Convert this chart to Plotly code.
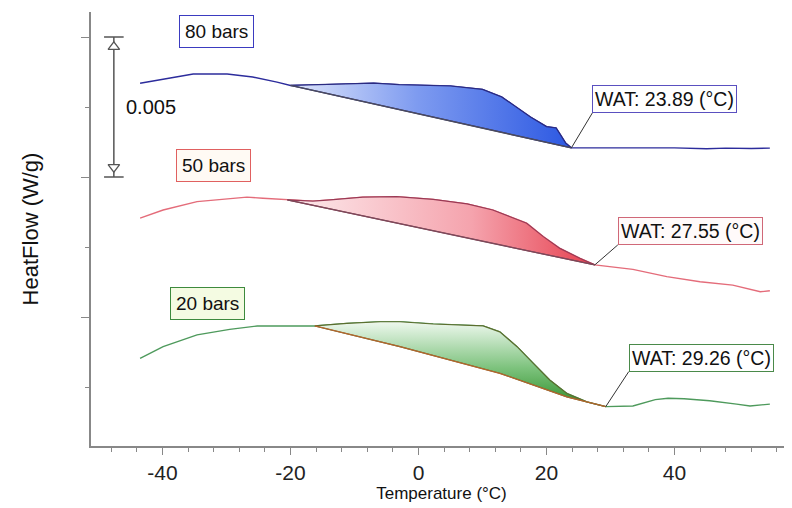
import numpy as np
import plotly.graph_objects as go

# ---------------- data ----------------
# 80 bars
t80 = [-43.5, -39.9, -35.2, -29.9, -25.9, -22.1, -20.0, -15.9, -10.0, -7.0, -3.0, 0.0, 5.0,
       10.0, 13.0, 15.0, 17.5, 20.0, 21.5, 22.2, 23.0, 23.89, 27.0, 30.0, 33.0, 36.0, 40.0,
       45.0, 48.0, 52.0, 54.9]
hf80 = [0.00835, 0.00850, 0.00868, 0.00868, 0.00857, 0.00839, 0.00827, 0.00829, 0.00832,
        0.00835, 0.00830, 0.00829, 0.00825, 0.00813, 0.00786, 0.00754, 0.00714, 0.00680,
        0.00675, 0.00650, 0.00621, 0.00604, 0.00604, 0.00602, 0.00604, 0.00603, 0.00604,
        0.00601, 0.00603, 0.00602, 0.00603]
base80_t = [-20.0, 23.89]
base80_hf = [0.00827, 0.00604]

# 50 bars
t50 = [-43.5, -39.9, -34.6, -30.5, -26.8, -24.3, -20.5, -16.5, -13.8, -8.7, -3.4, 2.3, 7.6,
       11.6, 14.3, 16.9, 19.5, 22.1, 25.2, 27.55, 33.5, 38.8, 44.0, 49.1, 53.4, 54.9]
hf50 = [0.00353, 0.00382, 0.00412, 0.00421, 0.00428, 0.00424, 0.00418, 0.00414, 0.00418,
        0.00428, 0.00430, 0.00420, 0.00404, 0.00382, 0.00358, 0.00335, 0.00287, 0.00245,
        0.00210, 0.00186, 0.00170, 0.00144, 0.00126, 0.00114, 0.00090, 0.00094]
base50_t = [-20.5, 27.55]
base50_hf = [0.00418, 0.00186]

# 20 bars
t20 = [-43.5, -39.9, -34.6, -29.5, -25.2, -21.6, -16.2, -11.2, -6.0, -2.9, 2.3, 10.1, 12.7,
       15.4, 17.9, 20.5, 23.2, 26.3, 29.26, 33.5, 37.0, 39.0, 41.5, 45.5, 49.7, 51.8, 54.9]
hf20 = [-0.00148, -0.00106, -0.00064, -0.00044, -0.00032, -0.00032, -0.00032, -0.00023,
        -0.00017, -0.00017, -0.00025, -0.00032, -0.00053, -0.00106, -0.00165, -0.00225,
        -0.00273, -0.00303, -0.00320, -0.00318, -0.00295, -0.00290, -0.00292, -0.00299,
        -0.00311, -0.00318, -0.00311]
base20_t = [-16.2, -2.9, 12.7, 23.2, 29.26]
base20_hf = [-0.00032, -0.00106, -0.00201, -0.00285, -0.00320]

series_names = ["80 bars", "50 bars", "20 bars"]
wat_values = [23.89, 27.55, 29.26]
scale_bar = 0.005
scale_top = 0.010
x_ticks = [-40, -20, 0, 20, 40]
x_tick_labels = [str(v) for v in x_ticks]

# ---------------- styles ----------------
FONT = "Liberation Sans, Arial, sans-serif"
styles = [
    dict(line="#2c2c9c", edge="#2a2a80", base="#4c4c5c",
         grad=dict(type="horizontal", colorscale=[[0, "#dfe6fb"], [0.45, "#7e9bf0"], [1, "#2c58e2"]]),
         box_border="#3b3bc0", box_bg="#ffffff", wat_border="#5a50c0", wat_bg="#ffffff",
         label_pos=(-31.6, 0.010214), wat_off=(21, -35)),
    dict(line="#e46c7a", edge="#9a3a55", base="#7a4a5a",
         grad=dict(type="horizontal", colorscale=[[0, "#fdecee"], [0.6, "#f5a3ad"], [1, "#e6404f"]]),
         box_border="#e06060", box_bg="#fffaf4", wat_border="#d06878", wat_bg="#fffafa",
         label_pos=(-32.1, 0.005411), wat_off=(23, -20)),
    dict(line="#4e9a5c", edge="#5b6e2e", base="#b5652e",
         grad=dict(type="vertical", colorscale=[[0, "#2f8f2a"], [0.45, "#7cc27c"], [1, "#eef8ee"]]),
         box_border="#3d8a3d", box_bg="#f4fbe2", wat_border="#4a8a4a", wat_bg="#ffffff",
         label_pos=(-32.9, 0.000482), wat_off=(23, -35)),
]

curves = [(t80, hf80, base80_t, base80_hf), (t50, hf50, base50_t, base50_hf),
          (t20, hf20, base20_t, base20_hf)]

fig = go.Figure()

for (t, hf, bt, bhf), st, name, wat in zip(curves, styles, series_names, wat_values):
    t = np.array(t)
    hf = np.array(hf)
    # the curve itself
    fig.add_trace(go.Scatter(x=t, y=hf, mode="lines", name=name,
                             line=dict(color=st["line"], width=1.4), showlegend=False,
                             hoverinfo="skip"))
    # crystallisation area between curve and baseline
    sel = (t >= bt[0]) & (t <= bt[-1])
    px = list(t[sel]) + list(bt[::-1])
    py = list(hf[sel]) + list(bhf[::-1])
    fig.add_trace(go.Scatter(x=px, y=py, mode="lines", fill="toself",
                             fillgradient=st["grad"],
                             line=dict(color=st["edge"], width=1.2), showlegend=False,
                             hoverinfo="skip"))
    # baseline
    fig.add_trace(go.Scatter(x=bt, y=bhf, mode="lines",
                             line=dict(color=st["base"], width=1.3), showlegend=False,
                             hoverinfo="skip"))
    # series label
    fig.add_annotation(x=st["label_pos"][0], y=st["label_pos"][1], text=name,
                       showarrow=False, font=dict(family=FONT, size=19, color="#111"),
                       bordercolor=st["box_border"], borderwidth=1, borderpad=5,
                       bgcolor=st["box_bg"])
    # WAT annotation
    wat_hf = float(np.interp(wat, t, hf))
    fig.add_annotation(x=wat, y=wat_hf, text=f"WAT: {wat:.2f} (°C)",
                       showarrow=True, arrowhead=0, arrowwidth=1, arrowcolor="#333",
                       ax=st["wat_off"][0], ay=st["wat_off"][1],
                       xanchor="left", yanchor="bottom",
                       font=dict(family=FONT, size=19.5, color="#111"),
                       bordercolor=st["wat_border"], borderwidth=1, borderpad=2,
                       bgcolor=st["wat_bg"])

# scale bar
bar_x = -47.6
bar_y = [scale_top, scale_top - scale_bar]
fig.add_trace(go.Scatter(x=[bar_x, bar_x], y=bar_y, mode="lines+markers",
                         line=dict(color="#555", width=1.5),
                         marker=dict(symbol="line-ew", size=14, line=dict(color="#555", width=1.5)),
                         showlegend=False, hoverinfo="skip"))
tri_off = 0.00035
fig.add_trace(go.Scatter(x=[bar_x, bar_x], y=[bar_y[0] - tri_off, bar_y[1] + tri_off],
                         mode="markers",
                         marker=dict(symbol=["triangle-up", "triangle-down"], size=10,
                                     color="white", line=dict(color="#555", width=1.3)),
                         showlegend=False, hoverinfo="skip"))
fig.add_annotation(x=-46.0, y=scale_top - scale_bar / 2, text=f"{scale_bar:g}",
                   showarrow=False, xanchor="left",
                   font=dict(family=FONT, size=20, color="#111"))

# the page body has an 8px margin, so the figure is 784x500 placed at (8, 8)
fig.update_layout(
    width=784, height=500,
    margin=dict(l=83, r=0, t=4, b=62),
    paper_bgcolor="white", plot_bgcolor="white",
    font=dict(family=FONT, color="#111"),
    showlegend=False,
)
fig.update_xaxes(
    range=[-51.17, 58.36], tickvals=x_ticks, ticktext=x_tick_labels,
    ticks="outside", ticklen=7, tickwidth=1,
    tickcolor="#888", showline=True, linecolor="#888", linewidth=2, showgrid=False,
    zeroline=False, tickfont=dict(family=FONT, size=21, color="#222"),
    minor=dict(dtick=4, tick0=0, ticks="outside", ticklen=4, tickcolor="#888", tickwidth=1),
    title=dict(text="Temperature (°C)", font=dict(family=FONT, size=17, color="#111"), standoff=2),
)
fig.update_yaxes(
    range=[-0.004607, 0.010893], tickmode="linear", tick0=0, dtick=0.005,
    ticks="outside", ticklen=8, tickwidth=1, tickcolor="#888", showticklabels=False,
    showline=True, linecolor="#888", linewidth=2, showgrid=False, zeroline=False,
    minor=dict(dtick=0.0025, tick0=0, ticks="outside", ticklen=4, tickcolor="#888", tickwidth=1),
    title=dict(text="HeatFlow (W/g)", font=dict(family=FONT, size=22, color="#111"), standoff=36),
)

fig.write_html("out.html")
